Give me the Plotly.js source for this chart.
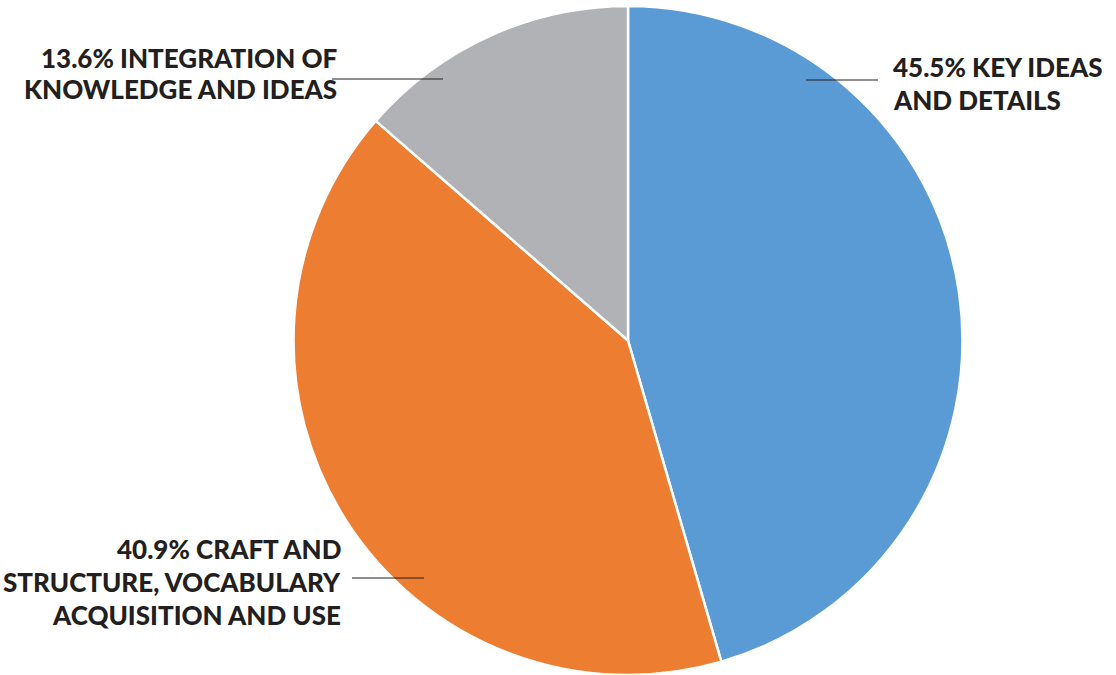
<!DOCTYPE html>
<html><head><meta charset="utf-8">
<script src="https://cdn.plot.ly/plotly-3.0.1.min.js"></script>
<style>html,body{margin:0;padding:0;background:#fff}#chart{width:1116px;height:675px}</style>
</head><body><div id="chart"></div>
<script>
const categories = ["KEY IDEAS AND DETAILS", "CRAFT AND STRUCTURE, VOCABULARY ACQUISITION AND USE", "INTEGRATION OF KNOWLEDGE AND IDEAS"];
const values = [45.5, 40.9, 13.6];
const labelLines = [
  ["45.5% KEY IDEAS", "AND DETAILS"],
  ["40.9% CRAFT AND", "STRUCTURE, VOCABULARY", "ACQUISITION AND USE"],
  ["13.6% INTEGRATION OF", "KNOWLEDGE AND IDEAS"]
];
const colors = ["#5B9BD5", "#ED7D31", "#B1B2B5"];

const W = 1116, H = 675;
const px = x => x / W, py = y => 1 - y / H;
const cx = 628, cy = 341, r = 335;

const font = {family: "Lato, 'DejaVu Sans', sans-serif", size: 26, color: "#231F20", weight: 900};

// label placement (pixels): anchor x, first-line center y, line pitch, side
const place = [
  {x: 891, y: 67, pitch: 33, anchor: "left"},
  {x: 343, y: 549, pitch: 33, anchor: "right"},
  {x: 339, y: 58, pitch: 31, anchor: "right"}
];

const trace = {
  type: "pie", labels: categories, values: values, sort: false, direction: "clockwise", rotation: 0,
  marker: {colors: colors, line: {color: "#ffffff", width: 2.5}},
  textinfo: "none", hoverinfo: "label+percent", showlegend: false,
  domain: {x: [px(cx - r), px(cx + r)], y: [py(cy + r), py(cy - r)]}
};

const annotations = [];
labelLines.forEach((lines, i) => {
  const p = place[i];
  lines.forEach((t, j) => {
    annotations.push({xref: "paper", yref: "paper", x: px(p.x), y: py(p.y + j * p.pitch),
      xanchor: p.anchor, yanchor: "middle", align: p.anchor, showarrow: false, text: t, font: font});
  });
});

const layout = {
  width: W, height: H, margin: {l: 0, r: 0, t: 0, b: 0},
  paper_bgcolor: "#fff", showlegend: false,
  shapes: [
    {type: "line", xref: "paper", yref: "paper", x0: px(806), x1: px(878), y0: py(80), y1: py(80), line: {color: "#231F20", width: 1.2}},
    {type: "line", xref: "paper", yref: "paper", x0: px(332), x1: px(443), y0: py(79), y1: py(79), line: {color: "#231F20", width: 1.2}},
    {type: "line", xref: "paper", yref: "paper", x0: px(352), x1: px(424), y0: py(578), y1: py(578), line: {color: "#231F20", width: 1.2}}
  ],
  annotations: annotations
};

Plotly.newPlot("chart", [trace], layout, {displayModeBar: false, staticPlot: true});
</script></body></html>
